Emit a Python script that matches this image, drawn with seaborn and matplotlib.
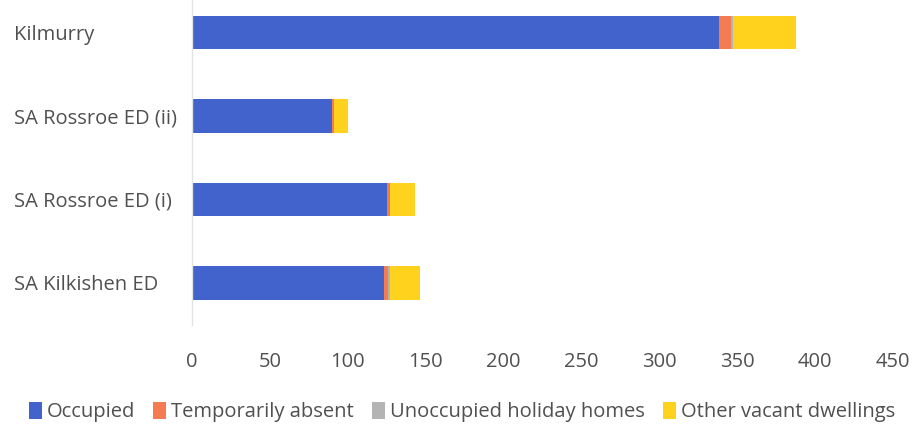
import matplotlib
matplotlib.use("Agg")
import matplotlib.pyplot as plt
from matplotlib.patches import Patch
import pandas as pd
import seaborn as sns

# values
areas = ['Kilmurry', 'SA Rossroe ED (ii)', 'SA Rossroe ED (i)', 'SA Kilkishen ED']
occupied = [338, 90, 125, 123]
temp_absent = [8, 1, 2, 3]
holiday = [1, 0, 0, 1]
other_vacant = [41, 9, 16, 19]

series = ['Occupied', 'Temporarily absent', 'Unoccupied holiday homes', 'Other vacant dwellings']
colors = ['#4262CC', '#F47B52', '#B4B4B4', '#FFD21E']

df = pd.DataFrame({'area': areas,
                   'Occupied': occupied,
                   'Temporarily absent': temp_absent,
                   'Unoccupied holiday homes': holiday,
                   'Other vacant dwellings': other_vacant})

# cumulative sums so the stacks can be drawn back to front
cum = df[series].cumsum(axis=1)
cum['area'] = df['area']

sns.set_style('white')
plt.rcParams['font.family'] = ['Open Sans', 'DejaVu Sans']
text_col = '#505050'

fig = plt.figure(figsize=(9.15, 4.34), dpi=100)
ax = fig.add_axes([0.21, 0.252, 0.766, 0.748])

for s, c in reversed(list(zip(series, colors))):
    sns.barplot(data=cum, y='area', x=s, color=c, orient='h', width=0.4,
                saturation=1, ax=ax, linewidth=0)

ax.set_xlim(0, 450)
ax.set_ylim(3.5, -0.39)
ax.set_xticks(range(0, 451, 50))
ax.set_xlabel('')
ax.set_ylabel('')
sns.despine(ax=ax, top=True, right=True, bottom=True, left=False)
ax.spines['left'].set_color('#E2E2E2')
ax.spines['left'].set_linewidth(1)
ax.tick_params(axis='x', length=0, pad=20, labelsize=14.5, labelcolor=text_col)
ax.tick_params(axis='y', length=0, pad=128, labelsize=14.5, labelcolor=text_col)
for lab in ax.get_yticklabels():
    lab.set_ha('left')

handles = [Patch(facecolor=c, edgecolor='none', label=s) for s, c in zip(series, colors)]
leg = fig.legend(handles=handles, loc='center', bbox_to_anchor=(0.505, 1 - 412 / 434),
                 ncol=4, frameon=False, fontsize=14.5, handlelength=0.65, handleheight=0.9,
                 handletextpad=0.25, columnspacing=0.9)
for t in leg.get_texts():
    t.set_color(text_col)

fig.savefig('out.png', dpi=100)
